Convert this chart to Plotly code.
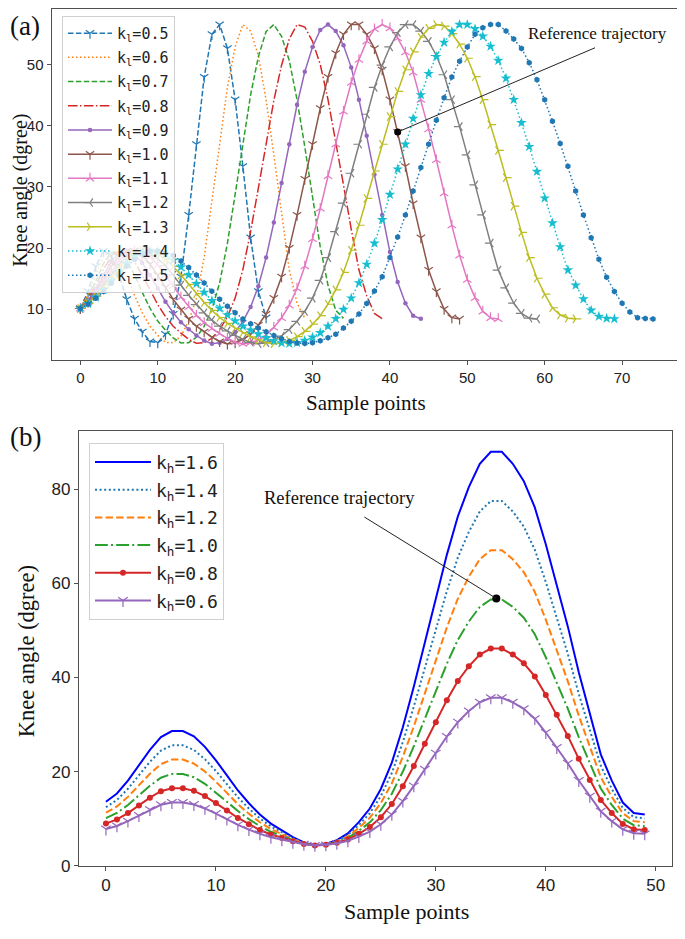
import numpy as np
import plotly.graph_objects as go

# The page body has an 8px margin, so the figure is drawn 8px in from the
# window's top-left corner; size and positions compensate for that.
OFF = 8
W, H = 685 - OFF, 939 - OFF

# ---------------- data ----------------
sample_index = list(range(50))
reference_knee = [10.1, 11.2, 12.9, 14.9, 17.0, 18.7, 19.5, 19.5, 18.8, 17.4,
                  15.6, 13.6, 11.6, 9.9, 8.4, 7.2, 6.3, 5.4, 4.7, 4.3,
                  4.5, 5.0, 5.9, 7.4, 9.2, 11.8, 15.3, 20.0, 25.4, 31.3,
                  37.0, 42.9, 48.0, 51.9, 55.0, 56.6, 56.6, 55.0, 52.7, 49.2,
                  44.3, 39.0, 33.4, 27.3, 21.7, 16.4, 12.9, 10.0, 8.6, 8.4]
kl_values = [0.5, 0.6, 0.7, 0.8, 0.9, 1.0, 1.1, 1.2, 1.3, 1.4, 1.5]
kl_labels = ["k<sub>l</sub>=0.5", "k<sub>l</sub>=0.6", "k<sub>l</sub>=0.7", "k<sub>l</sub>=0.8",
             "k<sub>l</sub>=0.9", "k<sub>l</sub>=1.0", "k<sub>l</sub>=1.1", "k<sub>l</sub>=1.2",
             "k<sub>l</sub>=1.3", "k<sub>l</sub>=1.4", "k<sub>l</sub>=1.5"]
kh_values = [1.6, 1.4, 1.2, 1.0, 0.8, 0.6]
kh_labels = ["k<sub>h</sub>=1.6", "k<sub>h</sub>=1.4", "k<sub>h</sub>=1.2",
             "k<sub>h</sub>=1.0", "k<sub>h</sub>=0.8", "k<sub>h</sub>=0.6"]
xticks_a = [0, 10, 20, 30, 40, 50, 60, 70]
yticks_a = [10, 20, 30, 40, 50]
xticks_b = [0, 10, 20, 30, 40, 50]
yticks_b = [0, 20, 40, 60, 80]

# ---------------- styles ----------------
tab = ['#1f77b4', '#ff7f0e', '#2ca02c', '#d62728', '#9467bd', '#8c564b',
       '#e377c2', '#7f7f7f', '#bcbd22', '#17becf', '#1f77b4']
DASH = '5.5px,2.4px'
DOT = '1.5px,2.5px'
DASHDOT = '9.6px,2.4px,1.5px,2.4px'
a_dash = [DASH, DOT, DASH, DASHDOT, 'solid', 'solid', 'solid', 'solid', 'solid', DOT, DOT]
a_sym = ['y-down', None, None, None, 'circle', 'y-down', 'y-up', 'y-left', 'y-right', 'star', 'hexagon']
a_msize = [7, 0, 0, 0, 4.5, 7, 7, 7, 7, 8, 6]

b_color = ['#0000ff', '#1f77b4', '#ff7f0e', '#2ca02c', '#d62728', '#9467bd']
b_dash = ['solid', '2px,2.6px', '7.4px,3.2px', '12.8px,3.2px,2px,3.2px', 'solid', 'solid']
b_sym = [None, None, None, None, 'circle', 'y-down']
b_msize = [0, 0, 0, 0, 6, 8]

fig = go.Figure()
ref = np.array(reference_knee)
idx = np.array(sample_index)


def make_marker(sym, size, color):
    if sym is None:
        return None
    if sym.startswith('y-'):
        return dict(symbol=sym, size=size, color=color, line=dict(color=color, width=1.2))
    return dict(symbol=sym, size=size, color=color, line=dict(width=0))


# ---------------- panel (a): time scaling ----------------
for i, k in enumerate(kl_values):
    n = int(round(len(ref) * k))
    xs = np.arange(n)
    ys = np.interp(xs / k, idx, ref)
    marker = make_marker(a_sym[i], a_msize[i], tab[i])
    fig.add_trace(go.Scatter(
        x=xs, y=ys, name=kl_labels[i], mode='lines+markers' if marker else 'lines',
        line=dict(color=tab[i], width=1.5, dash=a_dash[i]), marker=marker,
        xaxis='x', yaxis='y', legend='legend', legendgroup='a%d' % i))

# reference point on the k_l = 1.0 curve
ref_i = 41
fig.add_trace(go.Scatter(x=[ref_i], y=[reference_knee[ref_i]], mode='markers',
                         marker=dict(color='black', size=7), showlegend=False,
                         xaxis='x', yaxis='y'))

# ---------------- panel (b): amplitude scaling ----------------
base = min(reference_knee)
for i, k in enumerate(kh_values):
    ys = base + k * (ref - base)
    marker = make_marker(b_sym[i], b_msize[i], b_color[i])
    fig.add_trace(go.Scatter(
        x=idx, y=ys, name=kh_labels[i], mode='lines+markers' if marker else 'lines',
        line=dict(color=b_color[i], width=2, dash=b_dash[i]), marker=marker,
        xaxis='x2', yaxis='y2', legend='legend2', legendgroup='b%d' % i))

peak_y = (reference_knee[35] + reference_knee[36]) / 2 + 0.2
fig.add_trace(go.Scatter(x=[35.5], y=[peak_y], mode='markers',
                         marker=dict(color='black', size=8),
                         showlegend=False, xaxis='x2', yaxis='y2'))


# ---------------- layout ----------------
def px(x):
    return (x - OFF) / W


def py(y):
    return 1 - (y - OFF) / H


axis_common = dict(showgrid=False, zeroline=False, showline=True, linecolor='#505050',
                   linewidth=1.3, mirror=True, ticks='outside', ticklen=4,
                   tickcolor='#505050', tickwidth=1.2)

fig.update_layout(
    width=W, height=H, margin=dict(l=0, r=0, t=0, b=0),
    paper_bgcolor='white', plot_bgcolor='white',
    xaxis=dict(domain=[px(51.7), px(681.7)], anchor='y', range=[-3.7, 77.7],
               tickvals=xticks_a, tickfont=dict(family='Liberation Sans', size=15, color='#222'),
               **axis_common),
    yaxis=dict(domain=[py(363.3), py(8.3)], anchor='x', range=[1.65, 59.1],
               tickvals=yticks_a, tickfont=dict(family='Liberation Sans', size=15, color='#222'),
               **axis_common),
    xaxis2=dict(domain=[px(79), px(671.7)], anchor='y2', range=[-2.45, 51.45],
                tickvals=xticks_b, tickfont=dict(family='Liberation Sans', size=17, color='#222'),
                **axis_common),
    yaxis2=dict(domain=[py(875), py(435)], anchor='x2', range=[-0.02, 92.4],
                tickvals=yticks_b, tickfont=dict(family='Liberation Sans', size=17, color='#222'),
                **axis_common),
    legend=dict(x=px(62), y=py(15), xanchor='left', yanchor='top',
                bgcolor='rgba(255,255,255,0.8)', bordercolor='#d0d0d0', borderwidth=1,
                font=dict(family='DejaVu Sans Mono', size=15, color='#222'),
                tracegroupgap=1.7, itemwidth=44),
    legend2=dict(x=px(89), y=py(447), xanchor='left', yanchor='top',
                 bgcolor='rgba(255,255,255,0.8)', bordercolor='#d0d0d0', borderwidth=1,
                 font=dict(family='DejaVu Sans Mono', size=18, color='#222'),
                 tracegroupgap=1.3, itemwidth=56),
    showlegend=True,
)

serif = 'Liberation Serif'
fig.add_annotation(text='(a)', x=px(8), y=py(8), xref='paper', yref='paper',
                   xanchor='left', yanchor='top', showarrow=False,
                   font=dict(family=serif, size=27, color='#111'))
fig.add_annotation(text='(b)', x=px(8), y=py(424), xref='paper', yref='paper',
                   xanchor='left', yanchor='top', showarrow=False,
                   font=dict(family=serif, size=27, color='#111'))
ann = [
    dict(text='Sample points', x=366, y=407, size=21),
    dict(text='Sample points', x=406, y=921, size=22),
    dict(text='Reference trajectory', x=597.5, y=33, size=17),
    dict(text='Reference trajectory', x=339, y=503, size=18.5),
]
for a in ann:
    fig.add_annotation(text=a['text'], x=px(a['x']), y=py(a['y']), xref='paper', yref='paper',
                       xanchor='center', yanchor='middle', showarrow=False,
                       font=dict(family=serif, size=a['size'], color='#111'))
fig.add_annotation(text='Knee angle (dgree)', x=px(21), y=py(192), xref='paper', yref='paper',
                   textangle=-90, showarrow=False, xanchor='center', yanchor='middle',
                   borderpad=0, font=dict(family=serif, size=20, color='#111'))
fig.add_annotation(text='Knee angle (dgree)', x=px(26), y=py(658), xref='paper', yref='paper',
                   textangle=-90, showarrow=False, xanchor='center', yanchor='middle',
                   font=dict(family=serif, size=22.5, color='#111'))

# pointer lines from labels to the reference points
fig.add_shape(type='line', xref='x', yref='y', x0=66.5, y0=52.8,
              x1=ref_i, y1=reference_knee[ref_i], line=dict(color='#222', width=1))
fig.add_shape(type='line', xref='x2', yref='y2', x0=23.5, y0=74.1,
              x1=35.5, y1=peak_y, line=dict(color='#222', width=1))

fig.write_html('out.html')
